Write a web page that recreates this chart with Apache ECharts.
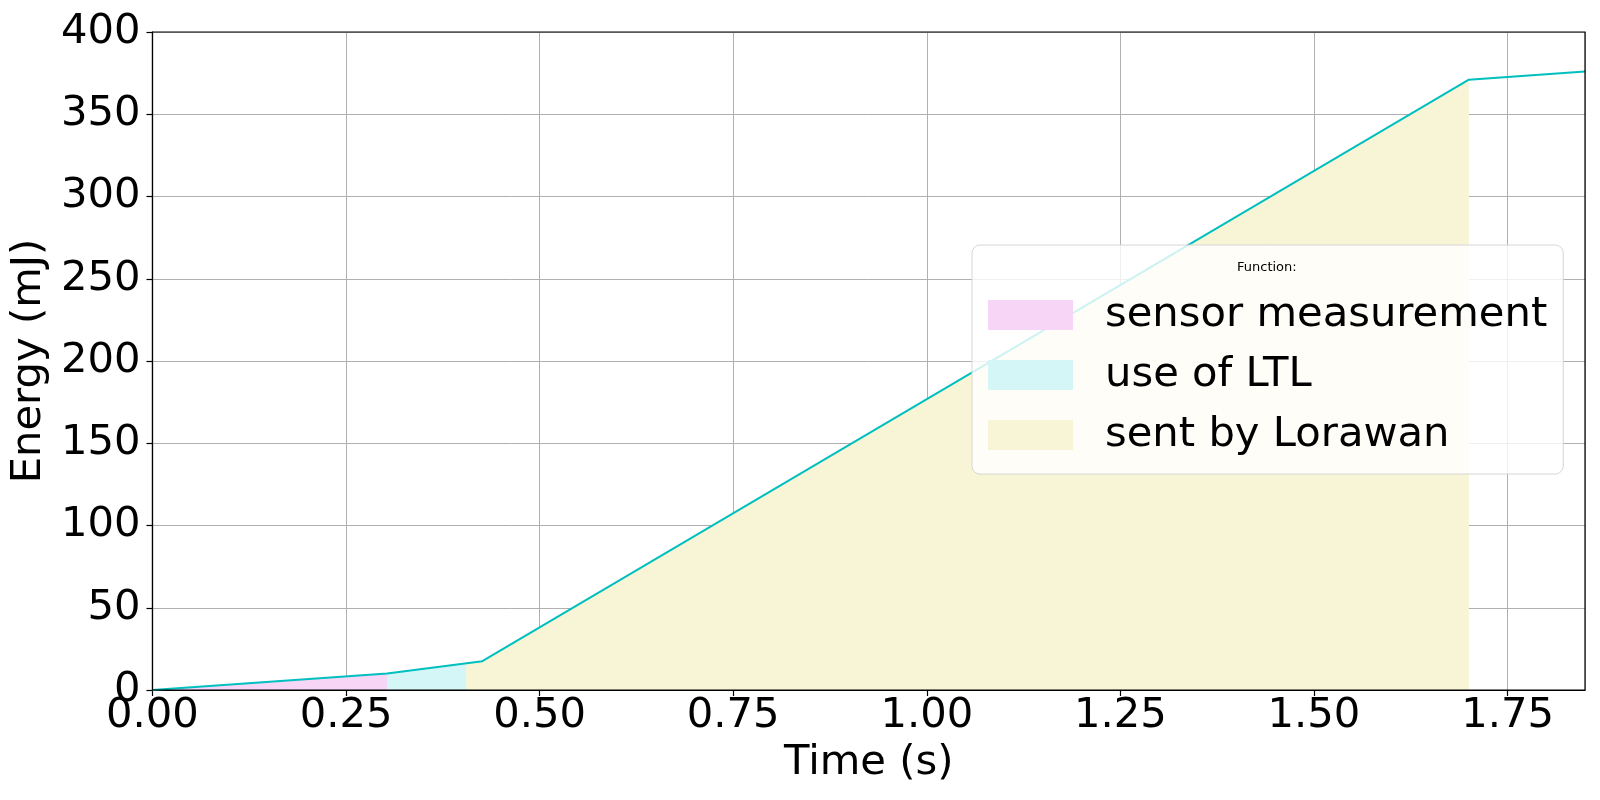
<!DOCTYPE html>
<html>
<head>
<meta charset="utf-8">
<script src="https://cdn.jsdelivr.net/npm/echarts@6/dist/echarts.min.js"></script>
<style>
  html, body { margin: 0; padding: 0; background: #fff; }
  #main { width: 1600px; height: 800px; }
</style>
</head>
<body>
<div id="main"></div>
<script>
// cumulative energy curve
var lineTime = [0, 0.303, 0.426, 1.70, 1.85];
var lineEnergy = [0, 10, 17.5, 371, 376];

// shaded phases under the curve
var sensorTime = [0, 0.303];
var sensorEnergy = [0, 10];
var ltlTime = [0.303, 0.405];
var ltlEnergy = [10, 16.2];
var loraTime = [0.405, 0.426, 1.70];
var loraEnergy = [16.2, 17.5, 371];

var phaseNames = ['sensor measurement', 'use of LTL', 'sent by Lorawan'];
var phaseColors = ['#f6d5f6', '#d5f6f6', '#f7f5d6'];
var yTicks = [0, 50, 100, 150, 200, 250, 300, 350, 400];

function pairs(xs, ys) {
    var out = [];
    for (var i = 0; i < xs.length; i++) out.push([xs[i], ys[i]]);
    return out;
}

function areaSerie(name, color, xs, ys) {
    return {
        name: name,
        type: 'line',
        data: pairs(xs, ys),
        symbol: 'none',
        silent: true,
        itemStyle: {color: color},
        lineStyle: {width: 0, opacity: 0},
        areaStyle: {color: color, opacity: 1},
        z: 1
    };
}

var font = 'DejaVu Sans';
var big = 41.7;

var option = {
    animation: false,
    textStyle: {fontFamily: font},
    grid: {
        left: 151,
        right: 15,
        top: 32,
        bottom: 110,
        show: true,
        borderColor: '#000',
        borderWidth: 1.2,
        z: 10
    },
    xAxis: {
        type: 'value',
        min: 0,
        max: 1.85,
        interval: 0.25,
        name: 'Time (s)',
        nameLocation: 'middle',
        nameGap: 52,
        nameTextStyle: {fontSize: big, color: '#000', fontFamily: font},
        axisLine: {show: true, onZero: false, lineStyle: {color: '#000', width: 1.2}},
        axisTick: {show: true, length: 6, lineStyle: {color: '#000', width: 1.2}},
        axisLabel: {
            fontSize: big, color: '#000', margin: 5, fontFamily: font,
            showMaxLabel: false,
            formatter: function (v) { return v.toFixed(2); }
        },
        splitLine: {show: true, lineStyle: {color: '#b0b0b0', width: 1}}
    },
    yAxis: {
        type: 'value',
        min: yTicks[0],
        max: yTicks[yTicks.length - 1],
        interval: 50,
        name: 'Energy (mJ)',
        nameLocation: 'middle',
        nameGap: 94,
        nameTextStyle: {fontSize: big, color: '#000', fontFamily: font},
        axisLine: {show: true, lineStyle: {color: '#000', width: 1.2}},
        axisTick: {show: true, length: 6, lineStyle: {color: '#000', width: 1.2}},
        axisLabel: {fontSize: big, color: '#000', margin: 12, fontFamily: font},
        splitLine: {show: true, lineStyle: {color: '#b0b0b0', width: 1}}
    },
    legend: {
        data: phaseNames,
        orient: 'vertical',
        left: 972,
        top: 245,
        icon: 'rect',
        itemWidth: 85,
        itemHeight: 30,
        itemGap: 18,
        padding: [49, 16, 18, 16],
        backgroundColor: 'rgba(255,255,255,0.8)',
        borderColor: '#d6d6d6',
        borderWidth: 1,
        borderRadius: 8,
        selectedMode: false,
        textStyle: {
            fontSize: big, color: '#000', fontFamily: font,
            lineHeight: 36, padding: [0, 0, 0, 27]
        },
        z: 20
    },
    graphic: [{
        type: 'text',
        left: 1237,
        top: 261,
        z: 100,
        style: {text: 'Function:', fontSize: 13, fill: '#000', fontFamily: font}
    }],
    series: [
        areaSerie(phaseNames[0], phaseColors[0], sensorTime, sensorEnergy),
        areaSerie(phaseNames[1], phaseColors[1], ltlTime, ltlEnergy),
        areaSerie(phaseNames[2], phaseColors[2], loraTime, loraEnergy),
        {
            name: 'energy',
            type: 'line',
            data: pairs(lineTime, lineEnergy),
            symbol: 'none',
            silent: true,
            lineStyle: {color: '#00bfbf', width: 2},
            itemStyle: {color: '#00bfbf'},
            z: 5
        }
    ]
};

var myChart = echarts.init(document.getElementById('main'));
myChart.setOption(option);
</script>
</body>
</html>
